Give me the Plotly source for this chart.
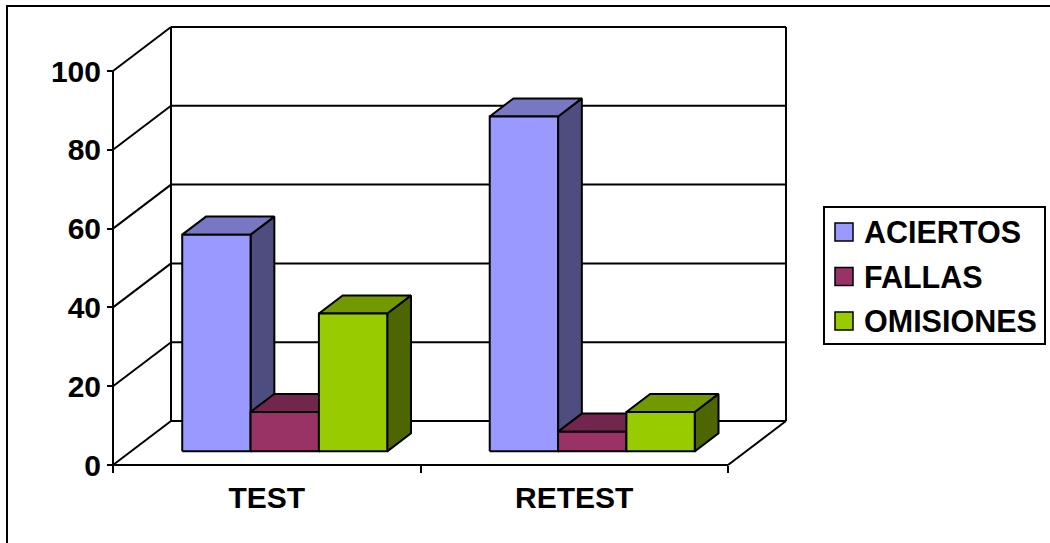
import plotly.graph_objects as go

# ---- data -------------------------------------------------------------
categories = ["TEST", "RETEST"]
series_names = ["ACIERTOS", "FALLAS", "OMISIONES"]
aciertos = [55, 85]
fallas = [10, 5]
omisiones = [35, 10]
y_ticks = [0, 20, 40, 60, 80, 100]

# face colours per series: (front, top, side)
front_colors = ["#9999FF", "#993366", "#99CC00"]
top_colors = ["#7777C4", "#73264D", "#739900"]
side_colors = ["#4D4D80", "#4D1A33", "#4D6600"]

# ---- canvas / projection ------------------------------------------------
W, H = 1050, 543
ORIGIN_PX = (113, 465)        # front-left floor corner on the page
SLOT_PX = 307.5               # width of one category slot
VAL_PX = 3.94                 # pixels per value unit
DEPTH_PX = (58, 44)           # oblique offset from front to back wall

DX = DEPTH_PX[0] / SLOT_PX    # depth offset in x data units
DY = DEPTH_PX[1] / VAL_PX     # depth offset in y data units

x_range = [-ORIGIN_PX[0] / SLOT_PX, (W - ORIGIN_PX[0]) / SLOT_PX]
y_range = [-(H - ORIGIN_PX[1]) / VAL_PX, ORIGIN_PX[1] / VAL_PX]

n_cat = len(categories)
n_ser = len(series_names)
bar_w = 1.0 / (n_ser + 1.5)   # 150 % gap width
gap = 0.75 * bar_w
D_FRONT, D_BACK = 0.31, 0.72  # depth band occupied by the bars
y_max = y_ticks[-1]
FONT = "Liberation Sans, Arial, Helvetica, sans-serif"


def proj(x, v, d):
    """Oblique projection of (category-x, value, depth) into the 2D axes."""
    return x + d * DX, v + d * DY


def poly(points):
    xs, ys = [], []
    for x, v, d in points:
        px, py = proj(x, v, d)
        xs.append(px)
        ys.append(py)
    return xs, ys


def segments(pairs):
    xs, ys = [], []
    for a, b in pairs:
        for p in (a, b):
            px, py = proj(*p)
            xs.append(px)
            ys.append(py)
        xs.append(None)
        ys.append(None)
    return xs, ys


fig = go.Figure()
line_style = dict(color="black", width=2)

# back wall grid + edges, left wall diagonals
wall = []
for t in y_ticks:
    wall.append(((0, t, 1), (n_cat, t, 1)))
    wall.append(((0, t, 0), (0, t, 1)))
wall.append(((0, 0, 1), (0, y_max, 1)))
wall.append(((n_cat, 0, 1), (n_cat, y_max, 1)))
# floor front edge, right floor edge, front value axis
wall.append(((0, 0, 0), (n_cat, 0, 0)))
wall.append(((n_cat, 0, 0), (n_cat, 0, 1)))
wall.append(((0, 0, 0), (0, y_max, 0)))
wx, wy = segments(wall)
fig.add_trace(go.Scatter(x=wx, y=wy, mode="lines", line=line_style,
                         hoverinfo="skip", showlegend=False))

# bars, painted left to right so nearer faces cover earlier side faces
series_values = [aciertos, fallas, omisiones]
for ci, cat in enumerate(categories):
    for si, name in enumerate(series_names):
        v = series_values[si][ci]
        xl = ci + gap + si * bar_w
        xr = xl + bar_w
        faces = [
            ([(xr, 0, D_FRONT), (xr, 0, D_BACK), (xr, v, D_BACK), (xr, v, D_FRONT)],
             side_colors[si]),
            ([(xl, v, D_FRONT), (xr, v, D_FRONT), (xr, v, D_BACK), (xl, v, D_BACK)],
             top_colors[si]),
            ([(xl, 0, D_FRONT), (xr, 0, D_FRONT), (xr, v, D_FRONT), (xl, v, D_FRONT)],
             front_colors[si]),
        ]
        for pts, col in faces:
            fx, fy = poly(pts + [pts[0]])
            fig.add_trace(go.Scatter(
                x=fx, y=fy, mode="lines", fill="toself", fillcolor=col,
                line=dict(color="black", width=2),
                name=name, text=f"{cat}: {v}", hoveron="fills",
                hoverinfo="name+text", showlegend=False))

# ---- legend (drawn as shapes + text) ----------------------------------
def pxx(x):
    return x / W


def pxy(y):
    return 1 - y / H


shapes = [
    # outer frame
    dict(type="rect", xref="paper", yref="paper",
         x0=pxx(7), x1=pxx(1060), y0=pxy(560), y1=pxy(6),
         line=dict(color="black", width=2)),
    # legend box
    dict(type="rect", xref="paper", yref="paper",
         x0=pxx(824), x1=pxx(1045), y0=pxy(344), y1=pxy(207),
         line=dict(color="black", width=2), fillcolor="white"),
]
annotations = []
row_y = [232, 276.5, 321]
for name, col, ry in zip(series_names, front_colors, row_y):
    shapes.append(dict(type="rect", xref="paper", yref="paper",
                       x0=pxx(835), x1=pxx(853), y0=pxy(ry + 9), y1=pxy(ry - 9),
                       line=dict(color="black", width=1.5), fillcolor=col))
    annotations.append(dict(xref="paper", yref="paper", x=pxx(862), y=pxy(ry),
                            xanchor="left", yanchor="middle", text=name,
                            showarrow=False,
                            font=dict(family=FONT, size=30.5, color="black",
                                      weight="bold")))

fig.update_layout(
    width=W, height=H,
    margin=dict(l=0, r=0, t=0, b=0),
    paper_bgcolor="white", plot_bgcolor="white",
    showlegend=False,
    shapes=shapes, annotations=annotations,
    xaxis=dict(
        range=x_range, showgrid=False, zeroline=False, showline=False,
        anchor="free", position=1 - ORIGIN_PX[1] / H,
        tickmode="array", tickvals=[i + 0.5 for i in range(n_cat)],
        ticktext=categories, ticks="outside", ticklen=6,
        tickcolor="rgba(0,0,0,0)",
        tickfont=dict(family=FONT, size=30, color="black", weight="bold"),
        minor=dict(tickmode="array", tickvals=list(range(n_cat + 1)),
                   ticks="outside", ticklen=7, tickwidth=2, tickcolor="black"),
        fixedrange=True,
    ),
    yaxis=dict(
        range=y_range, showgrid=False, zeroline=False, showline=False,
        anchor="free", position=ORIGIN_PX[0] / W,
        tickmode="array", tickvals=y_ticks,
        ticks="outside", ticklen=6, tickwidth=2, tickcolor="black",
        tickfont=dict(family=FONT, size=30, color="black", weight="bold"),
        fixedrange=True,
    ),
)

fig.write_html("out.html", config={"displayModeBar": False})
